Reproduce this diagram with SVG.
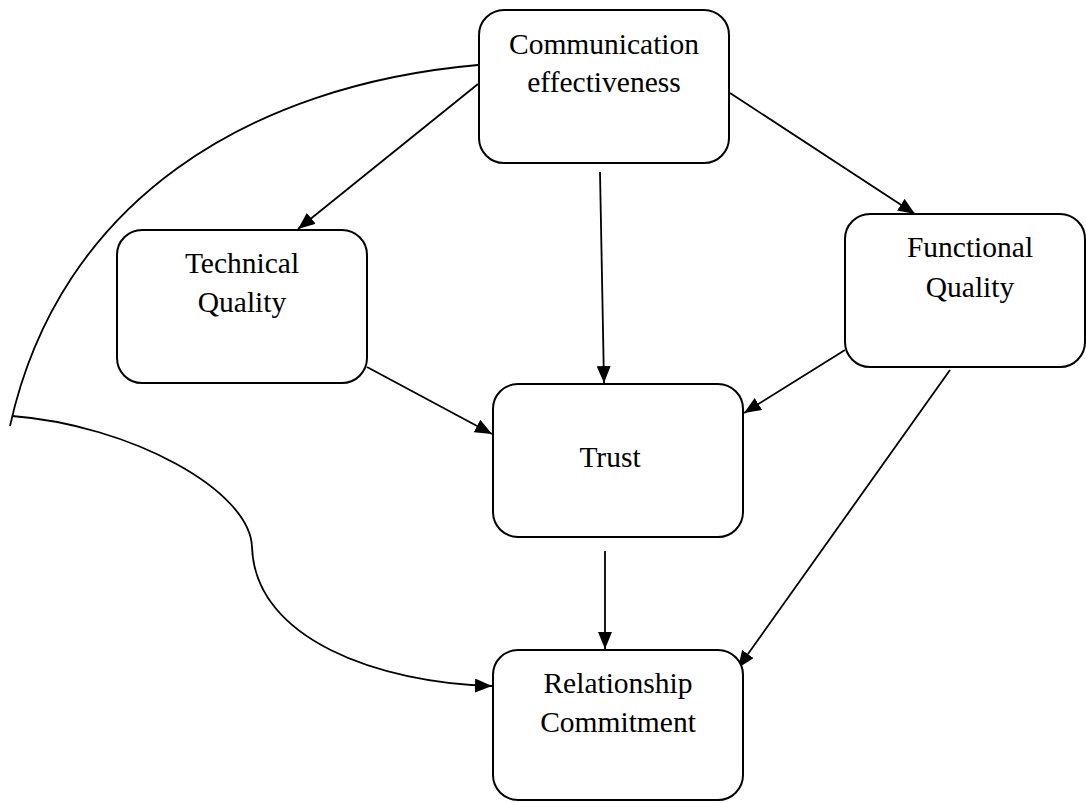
<svg xmlns="http://www.w3.org/2000/svg" width="1086" height="803" viewBox="0 0 1086 803">
<style>
.box{fill:#fff;stroke:#000;stroke-width:2}
.lbl{font-family:"Liberation Serif","Times New Roman",serif;font-size:29.5px;fill:#000;text-anchor:middle}
.c{fill:none;stroke:#000;stroke-width:1.8}
</style>
<defs>
<marker id="ah" markerUnits="userSpaceOnUse" markerWidth="18" markerHeight="14" refX="17" refY="7" orient="auto">
<path d="M0,0 L17,7 L0,14 Z" fill="#000"/>
</marker>
</defs>
<rect width="1086" height="803" fill="#fff"/>
<g id="connectors">
<path class="c" d="M478,65 C250,85 60,200 10,426"/>
<path class="c" d="M12,416 C130,425 250,490 252,547 C255,640 380,683 492,686" marker-end="url(#ah)"/>
<line class="c" x1="478" y1="84" x2="298" y2="229" marker-end="url(#ah)"/>
<line class="c" x1="600" y1="172" x2="604" y2="383" marker-end="url(#ah)"/>
<line class="c" x1="730" y1="93" x2="915" y2="214" marker-end="url(#ah)"/>
<line class="c" x1="367" y1="367" x2="492" y2="434" marker-end="url(#ah)"/>
<line class="c" x1="845" y1="350" x2="744" y2="413" marker-end="url(#ah)"/>
<line class="c" x1="950" y1="370" x2="738" y2="668" marker-end="url(#ah)"/>
<line class="c" x1="605" y1="551" x2="605" y2="649" marker-end="url(#ah)"/>
</g>
<g id="comm">
<rect class="box" x="479" y="10" width="250" height="153" rx="25"/>
<text class="lbl" x="604" y="54">Communication</text>
<text class="lbl" x="604" y="92">effectiveness</text>
</g>
<g id="technical">
<rect class="box" x="117" y="230" width="250" height="153" rx="25"/>
<text class="lbl" x="242" y="273">Technical</text>
<text class="lbl" x="242" y="312">Quality</text>
</g>
<g id="functional">
<rect class="box" x="845" y="214" width="240" height="153" rx="25"/>
<text class="lbl" x="970" y="257">Functional</text>
<text class="lbl" x="970" y="297">Quality</text>
</g>
<g id="trust">
<rect class="box" x="493" y="384" width="250" height="153" rx="25"/>
<text class="lbl" x="610" y="467">Trust</text>
</g>
<g id="commitment">
<rect class="box" x="493" y="650" width="250" height="150" rx="25"/>
<text class="lbl" x="618" y="693">Relationship</text>
<text class="lbl" x="618" y="732">Commitment</text>
</g>
</svg>
